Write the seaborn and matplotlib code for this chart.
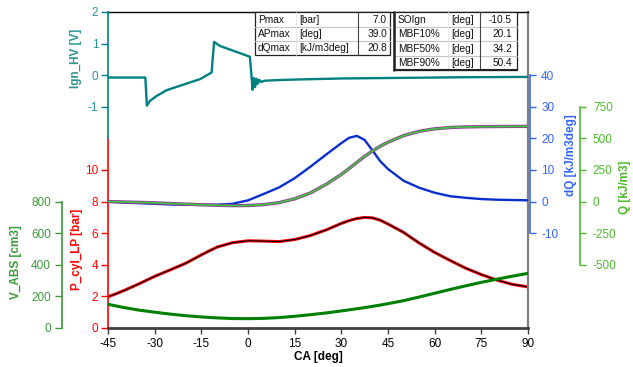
import matplotlib
matplotlib.use("Agg")
import matplotlib.pyplot as plt
import seaborn as sns
from matplotlib.patches import Rectangle

sns.set_style("white")
plt.rcParams["font.family"] = ["Liberation Sans", "DejaVu Sans"]

# ---------------- data ----------------
CA = [-45, -40, -35, -30, -25, -20, -15, -10, -5, 0, 5, 10, 15, 20, 25, 30,
      32.5, 35, 37.5, 40, 42.5, 45, 50, 55, 60, 65, 70, 75, 80, 85, 90]
P_CYL = [1.97, 2.36, 2.80, 3.27, 3.68, 4.10, 4.63, 5.12, 5.40, 5.52, 5.50, 5.47,
         5.60, 5.85, 6.20, 6.62, 6.80, 6.93, 7.00, 6.97, 6.82, 6.58, 6.05, 5.38,
         4.78, 4.27, 3.78, 3.38, 3.03, 2.76, 2.60]
V_ABS = [150, 130, 113, 100, 88, 78, 70, 64, 60, 59, 61, 66, 74, 84, 95, 108,
         115, 122, 129, 137, 145, 154, 173, 196, 220, 244, 267, 289, 309, 328, 346]
DQ = [0.0, -0.3, -0.5, -0.7, -0.9, -1.0, -1.0, -1.0, -0.7, 0.4, 2.4, 4.5, 7.4,
      11.0, 14.8, 18.5, 20.2, 20.8, 19.5, 16.2, 12.8, 10.3, 6.6, 4.4, 2.8, 1.7,
      1.2, 0.8, 0.6, 0.5, 0.4]
Q = [0, -3, -6, -10, -15, -20, -25, -29, -32, -31, -24, -8, 22, 68, 135, 215,
     262, 310, 358, 400, 438, 470, 522, 556, 576, 586, 591, 593, 594, 595, 595]

IGN_CA = [-45, -33.0, -32.5, -31.5, -29.3, -26.1, -20.9, -15.4, -11.7, -10.9,
          -9.0, -5.0, 0.6, 1.5, 1.9, 2.3, 2.7, 3.1, 3.6, 4.2, 5.5, 10, 16.7,
          30, 50, 70, 90]
IGN_HV = [-0.08, -0.08, -0.97, -0.82, -0.66, -0.48, -0.31, -0.13, 0.08, 1.05,
          0.92, 0.78, 0.58, -0.47, -0.10, -0.38, -0.12, -0.28, -0.15, -0.22,
          -0.18, -0.16, -0.14, -0.11, -0.09, -0.07, -0.06]

X_TICKS = [-45, -30, -15, 0, 15, 30, 45, 60, 75, 90]
IGN_TICKS = [-1, 0, 1, 2]
P_TICKS = [0, 2, 4, 6, 8, 10]
V_TICKS = [0, 200, 400, 600, 800]
DQ_TICKS = [-10, 0, 10, 20, 30, 40]
Q_TICKS = [-500, -250, 0, 250, 500, 750]

T1_NAMES = ["Pmax", "APmax", "dQmax"]
T1_UNITS = ["[bar]", "[deg]", "[kJ/m3deg]"]
T1_VALUES = ["7.0", "39.0", "20.8"]
T2_NAMES = ["SOIgn", "MBF10%", "MBF50%", "MBF90%"]
T2_UNITS = ["[deg]", "[deg]", "[deg]", "[deg]"]
T2_VALUES = ["-10.5", "20.1", "34.2", "50.4"]

# ---------------- colours ----------------
TEAL = "#008080"
TEAL_T = "#2a9494"
RED = "#ff0000"
VGREEN = "#008000"
VAXIS = "#3a9a3a"
BLUE = "#0a2fd0"
BAXIS = "#3366ff"
QGREEN = "#3fc43f"
QAXIS = "#4cbb2c"
PURPLE = "#9b2fa0"

W, H = 633, 367
PX = 72.0 / 100.0  # points per pixel
fig = plt.figure(figsize=(W / 100, H / 100), dpi=100)
fig.patch.set_facecolor("white")
L, R, T, B = 108, 528, 12, 328
ax_p = fig.add_axes([L / W, 1 - B / H, (R - L) / W, (B - T) / H])
ax_ign = ax_p.twinx()
ax_v = ax_p.twinx()
ax_dq = ax_p.twinx()
ax_q = ax_p.twinx()

FS = 8.5

for a in (ax_ign, ax_v, ax_dq, ax_q):
    for s in a.spines.values():
        s.set_visible(False)

# main (pressure) axes
sns.lineplot(x=CA, y=P_CYL, ax=ax_p, color=RED, linewidth=2.2)
sns.lineplot(x=CA, y=P_CYL, ax=ax_p, color="black", linewidth=0.8)
ax_p.set_xlim(-45, 90)
ax_p.set_ylim(0, 20)
ax_p.set_xticks(X_TICKS)
ax_p.set_xticklabels([str(t) for t in X_TICKS])
ax_p.set_yticks(P_TICKS)
ax_p.set_yticklabels([str(t) for t in P_TICKS])
ax_p.tick_params(axis="x", length=4.5, width=1, color="#404040", labelsize=FS,
                 labelcolor="black", pad=2.5, bottom=True)
ax_p.tick_params(axis="y", length=5, width=1, color=RED, labelsize=FS,
                 labelcolor=RED, pad=2, left=True)
ax_p.spines["left"].set_color(RED)
ax_p.spines["left"].set_linewidth(1.2)
ax_p.spines["left"].set_bounds(0, 12)
ax_p.spines["top"].set_color("black")
ax_p.spines["top"].set_linewidth(1.0)
ax_p.spines["right"].set_color("#808080")
ax_p.spines["right"].set_linewidth(1.6)
ax_p.spines["bottom"].set_color("#404040")
ax_p.spines["bottom"].set_linewidth(2.0)
ax_p.set_xlabel("")
ax_p.set_ylabel("")

# ignition signal
sns.lineplot(x=IGN_CA, y=IGN_HV, ax=ax_ign, color=TEAL, linewidth=1.7)
ax_ign.set_ylim(-8.03, 2)
ax_ign.yaxis.tick_left()
ax_ign.spines["left"].set_visible(True)
ax_ign.spines["left"].set_color(TEAL)
ax_ign.spines["left"].set_linewidth(1.2)
ax_ign.spines["left"].set_bounds(-2, 2)
ax_ign.set_yticks(IGN_TICKS)
ax_ign.set_yticklabels([str(t) for t in IGN_TICKS])
ax_ign.tick_params(axis="y", length=5, width=1, color=TEAL, labelsize=FS,
                   labelcolor=TEAL_T, pad=2)
ax_ign.set_ylabel("")

# volume
sns.lineplot(x=CA, y=V_ABS, ax=ax_v, color=VGREEN, linewidth=2.2)
ax_v.set_ylim(0, 2000)
ax_v.yaxis.tick_left()
ax_v.spines["left"].set_visible(True)
ax_v.spines["left"].set_position(("outward", 46 * PX))
ax_v.spines["left"].set_color(VAXIS)
ax_v.spines["left"].set_linewidth(1.2)
ax_v.spines["left"].set_bounds(0, 800)
ax_v.set_yticks(V_TICKS)
ax_v.set_yticklabels([str(t) for t in V_TICKS])
ax_v.tick_params(axis="y", length=5, width=1, color=VAXIS, labelsize=FS,
                 labelcolor=VAXIS, pad=3)
ax_v.set_ylabel("")

# heat release rate
sns.lineplot(x=CA, y=DQ, ax=ax_dq, color=BLUE, linewidth=1.7)
ax_dq.set_ylim(-40, 60)
ax_dq.spines["right"].set_visible(True)
ax_dq.spines["right"].set_position(("outward", 2 * PX))
ax_dq.spines["right"].set_color(BAXIS)
ax_dq.spines["right"].set_linewidth(1.2)
ax_dq.spines["right"].set_bounds(-10, 40)
ax_dq.set_yticks(DQ_TICKS)
ax_dq.set_yticklabels([str(t) for t in DQ_TICKS])
ax_dq.tick_params(axis="y", length=4, width=1, color=BAXIS, labelsize=FS,
                  labelcolor=BAXIS, pad=4)
ax_dq.set_ylabel("")

# cumulative heat
sns.lineplot(x=CA, y=Q, ax=ax_q, color=PURPLE, linewidth=2.4)
sns.lineplot(x=CA, y=Q, ax=ax_q, color=QGREEN, linewidth=1.3)
ax_q.set_ylim(-1000, 1500)
ax_q.spines["right"].set_visible(True)
ax_q.spines["right"].set_position(("outward", 52 * PX))
ax_q.spines["right"].set_color(QAXIS)
ax_q.spines["right"].set_linewidth(1.2)
ax_q.spines["right"].set_bounds(-500, 750)
ax_q.set_yticks(Q_TICKS)
ax_q.set_yticklabels([str(t) for t in Q_TICKS])
ax_q.tick_params(axis="y", length=4.3, width=1, color=QAXIS, labelsize=FS,
                 labelcolor=QAXIS, pad=5)
ax_q.set_ylabel("")

for a in (ax_ign, ax_v, ax_dq, ax_q):
    a.set_xlim(-45, 90)

# axis titles
def ftxt(x, y, s, color, rot=90, **kw):
    fig.text(x / W, 1 - y / H, s, color=color, rotation=rot, ha="center",
             va="center", fontsize=FS, fontweight="bold", **kw)

ftxt(76, 58, "Ign_HV [V]", TEAL_T)
ftxt(77, 249, "P_cyl_LP [bar]", RED)
ftxt(16, 262, "V_ABS [cm3]", VAXIS)
ftxt(571, 155, "dQ [kJ/m3deg]", BAXIS)
ftxt(625, 187, "Q [kJ/m3]", QAXIS)
ftxt(318, 357, "CA [deg]", "black", rot=0)

# ---------------- tables (overlay in pixel coordinates) ----------------
ax_t = fig.add_axes([0, 0, 1, 1], zorder=10)
ax_t.set_xlim(0, W)
ax_t.set_ylim(H, 0)
ax_t.axis("off")
ax_t.patch.set_visible(False)

TFS = 7.3


def draw_table(x0, x1, xsep, xname, xunit, xval, rows, names, units, values,
               thick=False):
    ax_t.add_patch(Rectangle((x0, rows[0]), x1 - x0, rows[-1] - rows[0],
                             facecolor="white", edgecolor="none"))
    for y in rows[1:-1]:
        ax_t.plot([x0, x1], [y, y], color="#c4c4c4", lw=0.8)
    ax_t.plot([xunit - 3, xunit - 3], [rows[0], rows[-1]], color="#e4e4e4", lw=0.6)
    ax_t.plot([xsep, xsep], [rows[0], rows[-1]], color="#444444", lw=0.8)
    ax_t.add_patch(Rectangle((x0, rows[0]), x1 - x0, rows[-1] - rows[0],
                             facecolor="none", edgecolor="#222222", lw=0.9))
    if thick:
        ax_t.plot([x0, x0], [rows[0], rows[-1]], color="#222222", lw=1.8)
        ax_t.plot([x0, x1], [rows[-1], rows[-1]], color="#222222", lw=1.5)
    for i in range(len(names)):
        yc = (rows[i] + rows[i + 1]) / 2 + 0.3
        ax_t.text(xname, yc, names[i], fontsize=TFS, va="center", ha="left", color="#111111")
        ax_t.text(xunit, yc, units[i], fontsize=TFS, va="center", ha="left", color="#111111")
        ax_t.text(xval, yc, values[i], fontsize=TFS, va="center", ha="right", color="#111111")


draw_table(255, 390, 358, 258, 299, 387, [12, 26.5, 41, 55],
           T1_NAMES, T1_UNITS, T1_VALUES)
draw_table(394, 517, 480, 398, 451, 512, [12, 26.5, 41, 55.5, 70],
           T2_NAMES, T2_UNITS, T2_VALUES, thick=True)

fig.savefig("out.png", dpi=100, facecolor="white")
